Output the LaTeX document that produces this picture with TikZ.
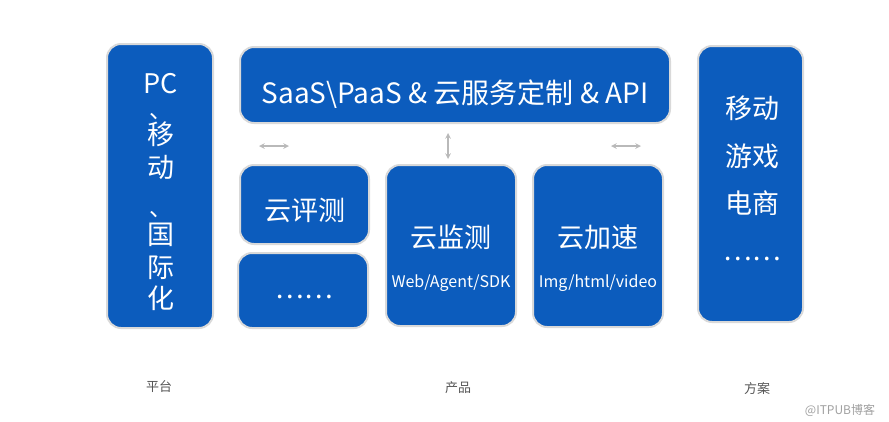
\documentclass[tikz,border=0pt]{standalone}
\usepackage{fontspec}
\setmainfont{Noto Sans CJK SC}
\usetikzlibrary{arrows}
\definecolor{boxblue}{RGB}{12,92,189}
\definecolor{capgray}{RGB}{85,85,85}
\definecolor{markgray}{RGB}{160,160,160}

\begin{document}
\begin{tikzpicture}[x=1pt,y=-1pt,
    blk/.style={draw=gray!30,line width=2pt,fill=boxblue,rounded corners=14pt,inner sep=0pt},
    ttl/.style={text=white,inner sep=0pt,font=\fontsize{27}{32}\selectfont},
    sub/.style={text=white,inner sep=0pt,font=\fontsize{16}{19}\selectfont},
    dunhao/.style={text=white,inner sep=0pt,font=\fontsize{23}{27}\selectfont,anchor=base},
    captxt/.style={text=capgray,inner sep=0pt,font=\fontsize{13}{15}\selectfont},
    arr/.style={<->,>=stealth,draw=gray!55,line width=1.5pt}]
\useasboundingbox (0,0) rectangle (889,421);

% boxes
\node[blk,minimum width=106pt,minimum height=284pt] (plat) at (160,186) {};
\node[blk,minimum width=430pt,minimum height=76pt] (saas) at (455,85) {};
\node[blk,minimum width=129pt,minimum height=79pt] (eval) at (304.5,204.5) {};
\node[blk,minimum width=130pt,minimum height=75pt] (more) at (303,290.5) {};
\node[blk,minimum width=130pt,minimum height=161pt] (mon) at (451,245.5) {};
\node[blk,minimum width=130pt,minimum height=162pt] (acc) at (598,246) {};
\node[blk,minimum width=105pt,minimum height=276pt] (sol) at (750.5,184) {};

% texts
\node[ttl,font=\fontsize{28}{33}\selectfont] (saast) at (455,94) {SaaS\textbackslash PaaS \& 云服务定制 \& API};
\node[ttl] (evalt) at (304.5,210) {云评测};
\node[ttl] (moret) at (304,297) {……};
\node[ttl] (mont) at (451,237) {云监测};
\node[sub] (mons) at (451,283) {Web/Agent/SDK};
\node[ttl] (acct) at (598,237) {云加速};
\node[sub] (accs) at (598,283) {Img/html/video};

\foreach \t/\y [count=\i] in {PC/84, 移/134, 动/167, 国/235, 际/268, 化/298}
  \node[ttl] (p\i) at (161,\y) {\t};
\node[dunhao] (d1) at (161,118) {、};
\node[dunhao] (d2) at (161,216) {、};
\foreach \t/\y [count=\i] in {移动/108, 游戏/156, 电商/203, ……/259}
  \node[ttl] (s\i) at (752,\y) {\t};

% arrows
\coordinate (a1) at (259,146);
\coordinate (a2) at (289,146);
\coordinate (b1) at (448,133);
\coordinate (b2) at (448,159);
\coordinate (c1) at (611,146);
\coordinate (c2) at (641,146);
\draw[arr] (a1) -- (a2);
\draw[arr] (b1) -- (b2);
\draw[arr] (c1) -- (c2);

% captions
\node[captxt] (l1) at (159,387) {平台};
\node[captxt] (l2) at (458,388) {产品};
\node[captxt] (l3) at (757,389) {方案};
\node[text=markgray,inner sep=0pt,font=\fontsize{12}{14}\selectfont] (wm) at (840,410) {@ITPUB博客};
\end{tikzpicture}
\end{document}
